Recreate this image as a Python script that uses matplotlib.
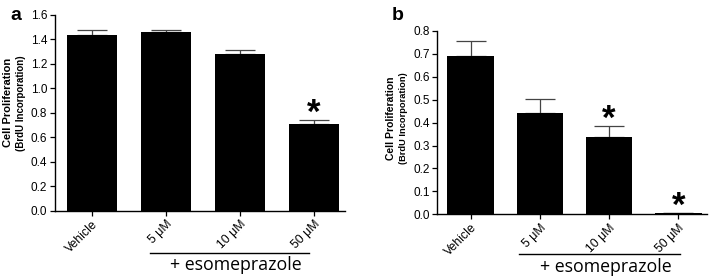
import matplotlib
matplotlib.use("Agg")
import matplotlib.pyplot as plt
import numpy as np

plt.rcParams['font.family'] = ['Liberation Sans', 'DejaVu Sans']

categories = ["Vehicle", "5 \u03bcM", "10 \u03bcM", "50 \u03bcM"]
values_a = [1.44, 1.46, 1.28, 0.705]
errors_a = [0.04, 0.02, 0.03, 0.035]
values_b = [0.692, 0.441, 0.336, 0.005]
errors_b = [0.066, 0.062, 0.051, 0.002]
sig_a = [False, False, False, True]
sig_b = [False, False, True, True]
yticks_a = [0.0, 0.2, 0.4, 0.6, 0.8, 1.0, 1.2, 1.4, 1.6]
yticks_b = [0.0, 0.1, 0.2, 0.3, 0.4, 0.5, 0.6, 0.7, 0.8]

W, H = 709, 277
fig = plt.figure(figsize=(W / 100, H / 100), dpi=100)


def px_axes(l, r, t, b):
    return fig.add_axes([l / W, 1 - b / H, (r - l) / W, (b - t) / H])


def draw(ax, values, errors, sig, yticks, ymax, xlim, bracket, text_x, br_y, tx_y):
    x = np.arange(len(categories))
    ax.bar(x, values, width=0.67, color='black', zorder=2)
    ax.errorbar(x, values, yerr=[np.zeros(len(errors)), errors], fmt='none',
                ecolor='#444444', elinewidth=0.9, capsize=10.5, capthick=0.9, zorder=1)
    for xi, v, e, s in zip(x, values, errors, sig):
        if s:
            ax.annotate('*', (xi, v + e), xytext=(0, -3), textcoords='offset pixels',
                        ha='center', va='baseline', fontsize=25, fontweight='bold')
    ax.set_ylim(0, ymax)
    ax.set_xlim(*xlim)
    ax.set_yticks(yticks)
    ax.set_yticklabels([f"{t:.1f}" for t in yticks], fontsize=8.5)
    ax.set_xticks(x)
    ax.set_xticklabels(categories, rotation=45, ha='right', rotation_mode='anchor', fontsize=8.8)
    for sp in ['top', 'right']:
        ax.spines[sp].set_visible(False)
    for sp in ['left', 'bottom']:
        ax.spines[sp].set_linewidth(1.0)
    ax.tick_params(direction='out', length=3.5, width=0.9, pad=2)
    trans = ax.get_xaxis_transform()
    ax.plot(bracket, [br_y, br_y], color='black', lw=1.0, transform=trans, clip_on=False)
    ax.text(text_x, tx_y, '+ esomeprazole', ha='center', va='center', fontsize=12.8,
            family=['Open Sans', 'DejaVu Sans'], transform=trans)


ax_a = px_axes(55, 345, 15, 210.7)
draw(ax_a, values_a, errors_a, sig_a, yticks_a, 1.6, (-0.5, 3.42),
     [0.78, 2.94], 1.95, -0.215, -0.28)
ax_b = px_axes(437.3, 706.7, 31, 214.3)
draw(ax_b, values_b, errors_b, sig_b, yticks_b, 0.8, (-0.48, 3.41),
     [0.70, 3.02], 1.96, -0.218, -0.29)

# y labels
fig.text(8.5 / W, 1 - 102 / H, 'Cell Proliferation', rotation=90, ha='center', va='center',
         fontsize=8.0, fontweight='bold')
fig.text(21.5 / W, 1 - 103 / H, '(BrdU Incorporation)', rotation=90, ha='center', va='center',
         fontsize=7.0, fontweight='bold')
fig.text(391.5 / W, 1 - 118 / H, 'Cell Proliferation', rotation=90, ha='center', va='center',
         fontsize=7.5, fontweight='bold')
fig.text(403.5 / W, 1 - 118 / H, '(BrdU Incorporation)', rotation=90, ha='center', va='center',
         fontsize=6.7, fontweight='bold')

fig.text(16 / W, 1 - 15 / H, 'a', ha='center', va='center', fontsize=14, fontweight='bold')
fig.text(398 / W, 1 - 15 / H, 'b', ha='center', va='center', fontsize=14, fontweight='bold')

fig.savefig('out.png', dpi=100)
